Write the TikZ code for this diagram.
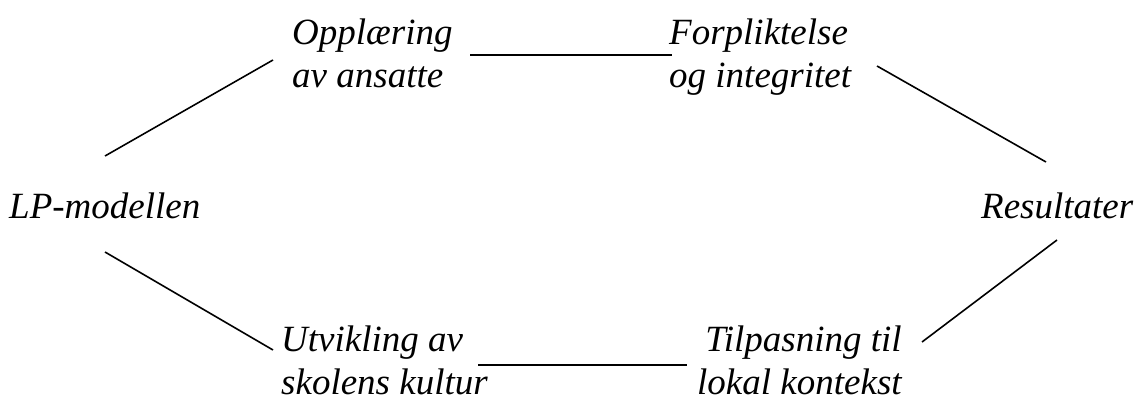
\documentclass[tikz,border=0pt]{standalone}
\usepackage{fontspec}
\setmainfont{Liberation Serif}
\begin{document}
\begin{tikzpicture}[x=1pt,y=-1pt,
  lbl/.style={inner sep=0pt, anchor=base west, align=left, font=\fontsize{37}{43}\selectfont\itshape},
  link/.style={draw=black, line width=1.6pt}]
\useasboundingbox (0,0) rectangle (1136,396);
\node[lbl] (lp) at (9,218) {LP-modellen};
\node[lbl] (opp) at (292,88) {Oppl\ae ring\\av ansatte};
\node[lbl] (forp) at (669,88) {Forpliktelse\\og integritet};
\node[lbl] (res) at (981,218) {Resultater};
\node[lbl] (utv) at (281,394) {Utvikling av\\skolens kultur};
\node[lbl, align=right] (tilp) at (697,394) {Tilpasning til\\lokal kontekst};
\coordinate (a1) at (105,156);  \coordinate (b1) at (273,60);
\coordinate (a2) at (470,55);   \coordinate (b2) at (672,55);
\coordinate (a3) at (877,66);   \coordinate (b3) at (1046,162);
\coordinate (a4) at (1057,240); \coordinate (b4) at (922,342);
\coordinate (a5) at (105,252);  \coordinate (b5) at (273,350);
\coordinate (a6) at (478,365);  \coordinate (b6) at (687,365);
\draw[link] (a1) -- (b1);
\draw[link] (a2) -- (b2);
\draw[link] (a3) -- (b3);
\draw[link] (a4) -- (b4);
\draw[link] (a5) -- (b5);
\draw[link] (a6) -- (b6);
\end{tikzpicture}
\end{document}
